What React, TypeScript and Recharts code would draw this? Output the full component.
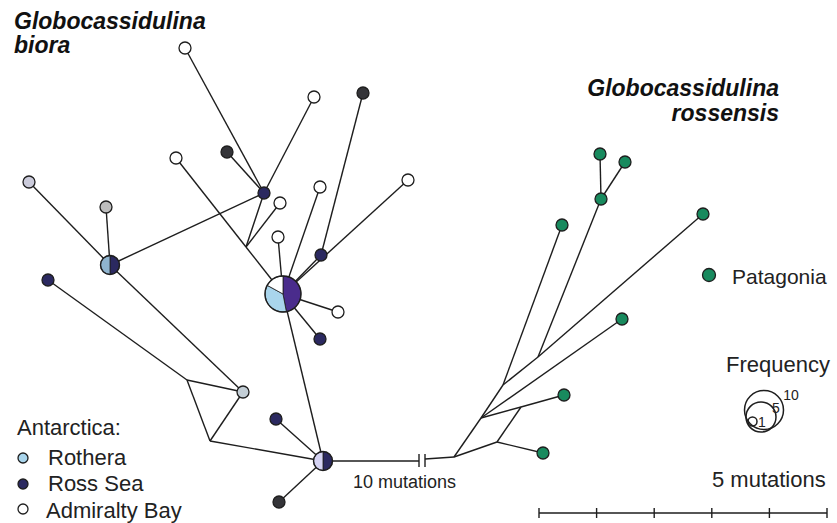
import { ScatterChart, Scatter, XAxis, YAxis, ReferenceLine } from "recharts"

// haplotype positions in network layout units (pixels of the layout)
const bioraHaplotypes = [
  { id: "h1", x: 264, y: 193, pop: "ross" },
  { id: "a1", x: 185, y: 48, pop: "adm" },
  { id: "a2", x: 314, y: 97, pop: "adm" },
  { id: "a3", x: 363, y: 93, pop: "dark" },
  { id: "a4", x: 176, y: 158, pop: "adm" },
  { id: "a5", x: 227, y: 152, pop: "dark" },
  { id: "a6", x: 29, y: 182, pop: "greyL" },
  { id: "a7", x: 106, y: 207, pop: "grey" },
  { id: "a8", x: 280, y: 203, pop: "adm" },
  { id: "a9", x: 320, y: 187, pop: "adm" },
  { id: "a10", x: 408, y: 180, pop: "adm" },
  { id: "a11", x: 278, y: 237, pop: "adm" },
  { id: "a12", x: 321, y: 255, pop: "ross" },
  { id: "a13", x: 48, y: 280, pop: "ross" },
  { id: "a14", x: 243, y: 392, pop: "greyB" },
  { id: "a15", x: 276, y: 419, pop: "ross" },
  { id: "a16", x: 279, y: 502, pop: "dark" },
  { id: "a17", x: 338, y: 312, pop: "adm" },
  { id: "a18", x: 320, y: 339, pop: "ross" },
]

// shared haplotypes: shares listed clockwise from 12 o'clock
const bioraShared = [
  { id: "big", x: 283, y: 294, n: 12, parts: [["rossP", 47], ["roth", 36], ["adm", 17]] },
  { id: "r1", x: 110, y: 265, n: 2, parts: [["ross", 1], ["rothG", 1]] },
  { id: "b", x: 323, y: 461, n: 2, parts: [["ross", 1], ["lav", 1]] },
]

const bioraJunctions = [
  { id: "j1", x: 246, y: 247 },
  { id: "j2", x: 187, y: 380 },
  { id: "j3", x: 210, y: 441 },
  { id: "brkL", x: 419, y: 461 },
  { id: "brkR", x: 425, y: 459 },
]

const rossensisHaplotypes = [
  { id: "g1", x: 562, y: 225, pop: "pat" },
  { id: "g2", x: 601, y: 199, pop: "pat" },
  { id: "g3", x: 600, y: 154, pop: "pat" },
  { id: "g4", x: 625, y: 162, pop: "pat" },
  { id: "g5", x: 703, y: 214, pop: "pat" },
  { id: "g6", x: 622, y: 319, pop: "pat" },
  { id: "g7", x: 564, y: 395, pop: "pat" },
  { id: "g8", x: 543, y: 453, pop: "pat" },
]

const rossensisJunctions = [
  { id: "q0", x: 454, y: 457 },
  { id: "q1", x: 481, y: 418 },
  { id: "q2", x: 497, y: 442 },
  { id: "q3", x: 521, y: 407 },
  { id: "q4", x: 503, y: 385 },
  { id: "q5", x: 538, y: 357 },
]

const bioraEdges = [
  ["a1", "h1"], ["a2", "h1"], ["a5", "h1"], ["h1", "j1"], ["h1", "r1"],
  ["a4", "j1"], ["j1", "big"], ["j1", "a8"], ["a6", "r1"], ["a7", "r1"],
  ["r1", "a14"], ["a13", "j2"], ["j2", "a14"], ["j2", "j3"], ["j3", "a14"],
  ["j3", "b"], ["a11", "big"], ["a9", "big"], ["a3", "a12"], ["a12", "big"],
  ["a10", "big"], ["big", "a17"], ["big", "a18"], ["big", "b"], ["b", "a15"],
  ["b", "a16"], ["b", "brkL"], ["brkR", "q0"],
]

const rossensisEdges = [
  ["q0", "q1"], ["q0", "q2"], ["q2", "g8"], ["q2", "q3"], ["q1", "q3"],
  ["q3", "g7"], ["q1", "q4"], ["q1", "g6"], ["q4", "g1"], ["q4", "q5"],
  ["q5", "g2"], ["q5", "g5"], ["g2", "g3"], ["g2", "g4"],
]

const frequencyKey = [10, 5, 1]
const scaleBarTicks = [0, 1, 2, 3, 4, 5]

const COLORS: Record<string, string> = {
  adm: "#ffffff",
  ross: "#2b2960",
  rossP: "#4a2c8c",
  dark: "#343438",
  roth: "#a9d5ec",
  rothG: "#8fb4cf",
  lav: "#d5d3f3",
  greyL: "#cbcbdb",
  grey: "#bdbdbd",
  greyB: "#c3ced6",
  pat: "#188a5e",
}

const INK = "#1e1e1e"
const FONT = "'Liberation Sans', Arial, Helvetica, sans-serif"

const allPoints = [...bioraHaplotypes, ...bioraShared, ...bioraJunctions, ...rossensisHaplotypes, ...rossensisJunctions]
const byId: Record<string, { x: number; y: number }> = {}
allPoints.forEach((p) => { byId[p.id] = p })

const radiusFor = (n: number) => (n >= 10 ? 18 : n === 2 ? 9.5 : 6)
const freqRadius: Record<number, number> = { 10: 19.5, 5: 15, 1: 4.5 }
const freqCenter: Record<number, [number, number]> = { 10: [764, 410], 5: [761, 417], 1: [752.5, 421.5] }

function HapNode(props: any) {
  const { cx, cy, payload } = props
  if (cx == null || cy == null) return null
  const r = radiusFor(payload.n ?? 1)
  if (!payload.parts) {
    return <circle cx={cx} cy={cy} r={r} fill={COLORS[payload.pop]} stroke={INK} strokeWidth={1.3} />
  }
  const total = payload.parts.reduce((s: number, p: any) => s + p[1], 0)
  let a0 = 0
  const slices = payload.parts.map((p: any, i: number) => {
    const a1 = a0 + (p[1] / total) * Math.PI * 2
    const x0 = cx + r * Math.sin(a0), y0 = cy - r * Math.cos(a0)
    const x1 = cx + r * Math.sin(a1), y1 = cy - r * Math.cos(a1)
    const large = a1 - a0 > Math.PI ? 1 : 0
    const d = `M${cx},${cy} L${x0},${y0} A${r},${r} 0 ${large} 1 ${x1},${y1} Z`
    a0 = a1
    return <path key={i} d={d} fill={COLORS[p[0]]} stroke={INK} strokeWidth={0.8} />
  })
  return (
    <g>
      {slices}
      <circle cx={cx} cy={cy} r={r} fill="none" stroke={INK} strokeWidth={1.4} />
    </g>
  )
}

function edgeLines(edges: string[][], prefix: string) {
  return edges.map(([a, b], i) => (
    <ReferenceLine
      key={prefix + i}
      segment={[{ x: byId[a].x, y: byId[a].y }, { x: byId[b].x, y: byId[b].y }]}
      stroke={INK}
      strokeWidth={1.4}
      ifOverflow="visible"
    />
  ))
}

export default function App() {
  const unit = (827 - 539) / 5
  return (
    <div style={{ position: "absolute", left: 0, top: 0, width: 837, height: 523, background: "#fff" }}>
      <ScatterChart width={837} height={523} margin={{ top: 0, right: 0, bottom: 0, left: 0 }}>
        <XAxis type="number" dataKey="x" domain={[0, 837]} hide />
        <YAxis type="number" dataKey="y" domain={[0, 523]} reversed hide />
        {edgeLines(bioraEdges, "be")}
        {edgeLines(rossensisEdges, "re")}
        {/* break marks on the long branch */}
        {["brkL", "brkR"].map((id) => (
          <ReferenceLine key={id} segment={[{ x: byId[id].x, y: 454 }, { x: byId[id].x, y: 467 }]} stroke={INK} strokeWidth={1.4} ifOverflow="visible" />
        ))}
        {/* scale bar */}
        <ReferenceLine segment={[{ x: 539, y: 513 }, { x: 539 + unit * 5, y: 513 }]} stroke={INK} strokeWidth={1.4} ifOverflow="visible" />
        {scaleBarTicks.map((t) => (
          <ReferenceLine key={"t" + t} segment={[{ x: 539 + unit * t, y: 508 }, { x: 539 + unit * t, y: 518 }]} stroke={INK} strokeWidth={1.4} ifOverflow="visible" />
        ))}
        <Scatter data={bioraHaplotypes} shape={<HapNode />} isAnimationActive={false} />
        <Scatter data={rossensisHaplotypes} shape={<HapNode />} isAnimationActive={false} />
        <Scatter data={bioraShared} shape={<HapNode />} isAnimationActive={false} />
      </ScatterChart>

      <svg width={837} height={523} style={{ position: "absolute", left: 0, top: 0, pointerEvents: "none" }} fontFamily={FONT}>
        <g fontWeight="bold" fontStyle="italic" fontSize={23} fill="#111">
          <text x={14} y={29}>Globocassidulina</text>
          <text x={14} y={53}>biora</text>
          <text x={779} y={96} textAnchor="end">Globocassidulina</text>
          <text x={779} y={121} textAnchor="end">rossensis</text>
        </g>
        <g fontSize={22} fill="#222">
          <text x={17} y={435}>Antarctica:</text>
          <circle cx={23} cy={458} r={5} fill={COLORS.roth} stroke={INK} strokeWidth={1.3} />
          <text x={48} y={465}>Rothera</text>
          <circle cx={23} cy={484} r={5} fill={COLORS.ross} stroke={INK} strokeWidth={1.3} />
          <text x={48} y={491}>Ross Sea</text>
          <circle cx={23} cy={509} r={5} fill="#fff" stroke={INK} strokeWidth={1.3} />
          <text x={46} y={518}>Admiralty Bay</text>
          <circle cx={709} cy={275} r={6.5} fill={COLORS.pat} stroke={INK} strokeWidth={1.3} />
          <text x={732} y={284} fontSize={21}>Patagonia</text>
          <text x={726} y={372}>Frequency</text>
          <text x={712} y={487}>5 mutations</text>
        </g>
        <text x={353} y={488} fontSize={18} fill="#222">10 mutations</text>
        {frequencyKey.map((f) => (
          <circle key={f} cx={freqCenter[f][0]} cy={freqCenter[f][1]} r={freqRadius[f]} fill="none" stroke={INK} strokeWidth={1.5} />
        ))}
        <g fontSize={14} fill="#222">
          <text x={762} y={427} textAnchor="middle">1</text>
          <text x={776} y={413} textAnchor="middle">5</text>
          <text x={791} y={400} textAnchor="middle">10</text>
        </g>
      </svg>
    </div>
  )
}
